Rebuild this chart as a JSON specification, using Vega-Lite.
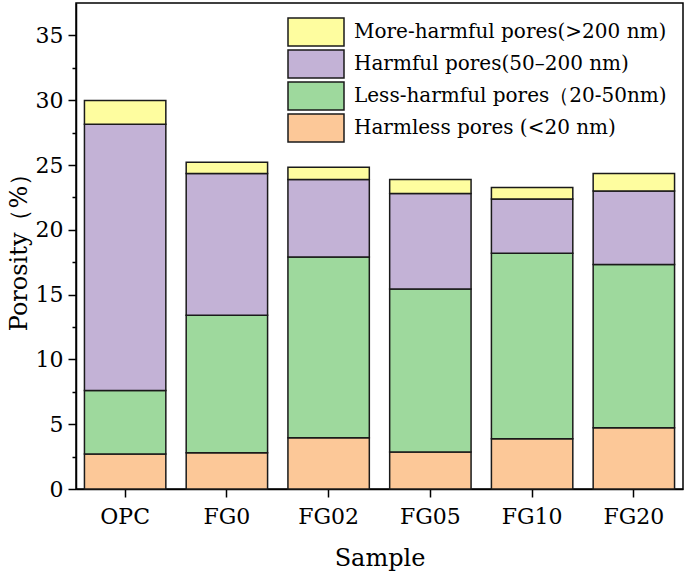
{
  "$schema": "https://vega.github.io/schema/vega-lite/v6.json",
  "autosize": {"type": "none"},
  "padding": {"left": 76, "top": 3, "right": 2, "bottom": 88},
  "width": 607,
  "height": 486,
  "background": "white",
  "config": {
    "font": "DejaVu Serif",
    "view": {"stroke": "#000", "strokeWidth": 1.5},
    "axis": {
      "labelFont": "DejaVu Serif",
      "titleFont": "DejaVu Serif",
      "labelColor": "#000",
      "titleColor": "#000",
      "domainColor": "#000",
      "tickColor": "#000",
      "domainWidth": 1.5,
      "tickWidth": 1.5,
      "labelFontSize": 22,
      "titleFontSize": 24,
      "titleFontWeight": "normal",
      "grid": false
    },
    "legend": {
      "labelFont": "DejaVu Serif",
      "labelFontSize": 20,
      "labelColor": "#000"
    }
  },
  "data": {
    "values": [
      {"sample": "OPC", "type": "Harmless pores (<20 nm)", "ord": 1, "value": 2.70},
      {"sample": "OPC", "type": "Less-harmful pores（20-50nm)", "ord": 2, "value": 4.90},
      {"sample": "OPC", "type": "Harmful pores(50–200 nm)", "ord": 3, "value": 20.54},
      {"sample": "OPC", "type": "More-harmful pores(>200 nm)", "ord": 4, "value": 1.84},
      {"sample": "FG0", "type": "Harmless pores (<20 nm)", "ord": 1, "value": 2.80},
      {"sample": "FG0", "type": "Less-harmful pores（20-50nm)", "ord": 2, "value": 10.60},
      {"sample": "FG0", "type": "Harmful pores(50–200 nm)", "ord": 3, "value": 10.94},
      {"sample": "FG0", "type": "More-harmful pores(>200 nm)", "ord": 4, "value": 0.88},
      {"sample": "FG02", "type": "Harmless pores (<20 nm)", "ord": 1, "value": 3.95},
      {"sample": "FG02", "type": "Less-harmful pores（20-50nm)", "ord": 2, "value": 13.95},
      {"sample": "FG02", "type": "Harmful pores(50–200 nm)", "ord": 3, "value": 5.98},
      {"sample": "FG02", "type": "More-harmful pores(>200 nm)", "ord": 4, "value": 0.95},
      {"sample": "FG05", "type": "Harmless pores (<20 nm)", "ord": 1, "value": 2.85},
      {"sample": "FG05", "type": "Less-harmful pores（20-50nm)", "ord": 2, "value": 12.58},
      {"sample": "FG05", "type": "Harmful pores(50–200 nm)", "ord": 3, "value": 7.37},
      {"sample": "FG05", "type": "More-harmful pores(>200 nm)", "ord": 4, "value": 1.08},
      {"sample": "FG10", "type": "Harmless pores (<20 nm)", "ord": 1, "value": 3.88},
      {"sample": "FG10", "type": "Less-harmful pores（20-50nm)", "ord": 2, "value": 14.32},
      {"sample": "FG10", "type": "Harmful pores(50–200 nm)", "ord": 3, "value": 4.17},
      {"sample": "FG10", "type": "More-harmful pores(>200 nm)", "ord": 4, "value": 0.90},
      {"sample": "FG20", "type": "Harmless pores (<20 nm)", "ord": 1, "value": 4.72},
      {"sample": "FG20", "type": "Less-harmful pores（20-50nm)", "ord": 2, "value": 12.61},
      {"sample": "FG20", "type": "Harmful pores(50–200 nm)", "ord": 3, "value": 5.67},
      {"sample": "FG20", "type": "More-harmful pores(>200 nm)", "ord": 4, "value": 1.34}
    ]
  },
  "mark": {"type": "bar", "stroke": "#1a1a1a", "strokeWidth": 1.5, "opacity": 1},
  "encoding": {
    "x": {
      "field": "sample",
      "type": "nominal",
      "sort": ["OPC", "FG0", "FG02", "FG05", "FG10", "FG20"],
      "scale": {"paddingInner": 0.2, "paddingOuter": 0.083},
      "axis": {
        "title": "Sample",
        "labelAngle": 0,
        "tickSize": 8,
        "labelPadding": 9,
        "titlePadding": 19
      }
    },
    "y": {
      "field": "value",
      "type": "quantitative",
      "stack": "zero",
      "scale": {"domain": [0, 37.5], "nice": false},
      "axis": {
        "title": "Porosity（%）",
        "values": [0, 2.5, 5, 7.5, 10, 12.5, 15, 17.5, 20, 22.5, 25, 27.5, 30, 32.5, 35],
        "labelExpr": "datum.value % 5 === 0 ? datum.label : ''",
        "tickSize": {"condition": {"test": "datum.value % 5 !== 0", "value": 4}, "value": 8},
        "labelPadding": 5,
        "titlePadding": 4
      }
    },
    "color": {
      "field": "type",
      "type": "nominal",
      "scale": {
        "domain": ["More-harmful pores(>200 nm)", "Harmful pores(50–200 nm)", "Less-harmful pores（20-50nm)", "Harmless pores (<20 nm)"],
        "range": ["#FEFD9F", "#C3B2D6", "#9ED99D", "#FCC898"]
      },
      "legend": {
        "title": null,
        "orient": "none",
        "legendX": 211,
        "legendY": 14,
        "padding": 0,
        "symbolType": "M-1,-1H3V1H-1Z",
        "symbolSize": 784,
        "symbolStrokeColor": "#1a1a1a",
        "symbolStrokeWidth": 1.5,
        "symbolOpacity": 1,
        "labelOffset": 37,
        "labelLimit": 0,
        "rowPadding": -2
      }
    },
    "order": {"field": "ord", "type": "quantitative"}
  }
}
